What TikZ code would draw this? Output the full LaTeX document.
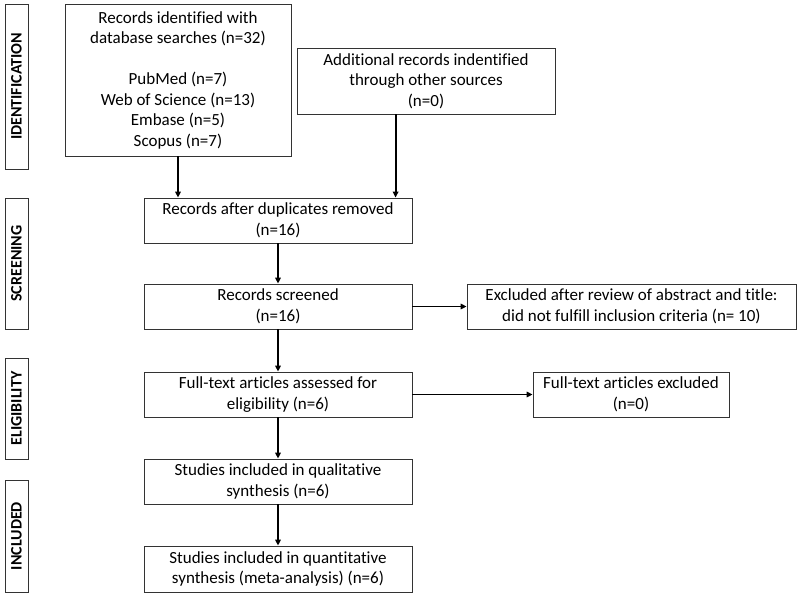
\documentclass[tikz,border=0pt]{standalone}
\usepackage{fontspec}
\setmainfont[Ligatures={NoCommon}]{Carlito}
\usetikzlibrary{arrows.meta,calc}
\begin{document}
\begin{tikzpicture}[x=1pt,y=-1pt,
  box/.style={draw=black!80,line width=0.8pt,inner sep=0pt,align=center,font=\fontsize{17}{20.5}\selectfont},
  lbl/.style={draw=black!80,line width=0.8pt,inner sep=0pt,rotate=90,font=\bfseries\fontsize{16}{18}\selectfont},
  arr/.style={line width=1.8pt,-{Triangle[length=6pt,width=5.5pt]}}]
\useasboundingbox (0,0) rectangle (800,596);
% phase labels
\node[lbl,minimum width=165,minimum height=23] (L1) at (16.5,86.5) {IDENTIFICATION};
\node[lbl,minimum width=131,minimum height=23] (L2) at (16.5,263.5) {SCREENING};
\node[lbl,minimum width=101,minimum height=23] (L3) at (16.5,408.5) {ELIGIBILITY};
\node[lbl,minimum width=112,minimum height=23] (L4) at (16.5,536) {INCLUDED};
% boxes
\node[box,minimum width=226,minimum height=152] (id1) at (178,80)
 {Records identified with\\database searches (n=32)\\[20.5pt]PubMed (n=7)\\Web of Science (n=13)\\Embase (n=5)\\Scopus (n=7)};
\node[box,minimum width=258,minimum height=66] (id2) at (426,81)
 {Additional records indentified\\through other sources\\(n=0)};
\node[box,minimum width=268,minimum height=45] (dup) at (278,220.5)
 {Records after duplicates removed\\(n=16)};
\node[box,minimum width=268,minimum height=45] (scr) at (278,306.5)
 {Records screened\\(n=16)};
\node[box,minimum width=329,minimum height=45] (exc1) at (631.5,306.5)
 {Excluded after review of abstract and title:\\did not fulfill inclusion criteria (n= 10)};
\node[box,minimum width=268,minimum height=45] (ft) at (278,394.5)
 {Full-text articles assessed for\\eligibility (n=6)};
\node[box,minimum width=196,minimum height=45] (exc2) at (631,394.5)
 {Full-text articles excluded\\(n=0)};
\node[box,minimum width=268,minimum height=45] (qual) at (278,481.5)
 {Studies included in qualitative\\synthesis (n=6)};
\node[box,minimum width=268,minimum height=46] (quant) at (278,569)
 {Studies included in quantitative\\synthesis (meta-analysis) (n=6)};
% arrows
\draw[arr] (id1.south) -- (id1.south |- dup.north);
\coordinate (a2) at ($(id2.south west)+(99,0)$);
\draw[arr] (a2) -- (a2 |- dup.north);
\draw[arr] (dup) -- (scr);
\draw[arr] (scr) -- (ft);
\draw[arr] (ft) -- (qual);
\draw[arr] (qual) -- (quant);
\draw[arr] (scr.east) -- (exc1.west);
\draw[arr] (ft.east) -- (exc2.west);
\end{tikzpicture}
\end{document}
